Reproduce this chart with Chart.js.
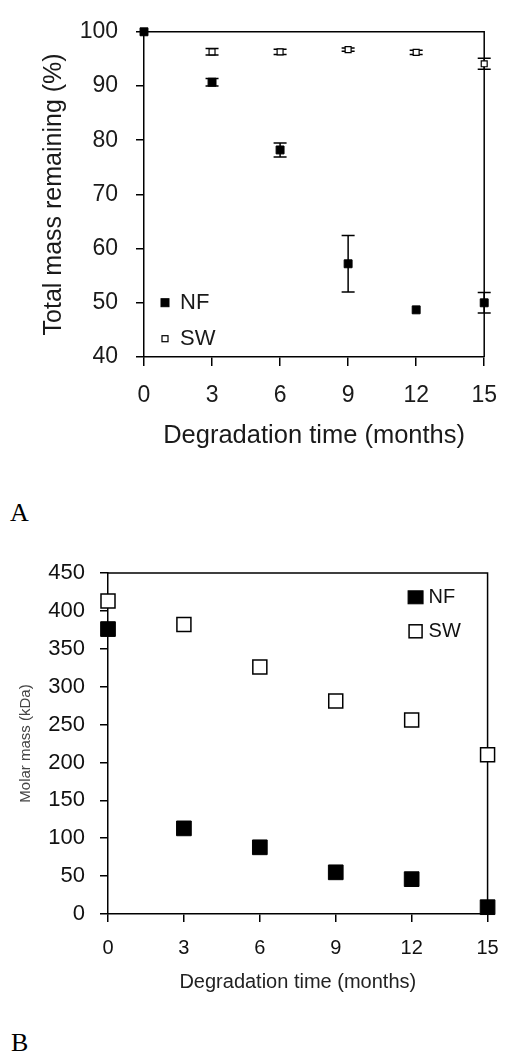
<!DOCTYPE html>
<html>
<head>
<meta charset="utf-8">
<script src="https://cdn.jsdelivr.net/npm/chart.js@4.4.1/dist/chart.umd.min.js"></script>
<style>
  html, body { margin: 0; padding: 0; background: #fff; }
  body { width: 513px; height: 1055px; position: relative; overflow: hidden; }
  canvas { position: absolute; left: 0; }
  #chartA { top: 0; }
  #chartB { top: 540px; }
  .panel { position: absolute; font-family: "Liberation Serif", "Times New Roman", serif;
           font-size: 26px; line-height: 26px; color: #000; }
  #labA { left: 10px; top: 500px; }
  #labB { left: 11px; top: 1030px; }
</style>
</head>
<body>
<canvas id="chartA" width="513" height="470"></canvas>
<canvas id="chartB" width="513" height="470"></canvas>
<div class="panel" id="labA">A</div>
<div class="panel" id="labB">B</div>

<script>
// Sampling times (months)
const months = [0, 3, 6, 9, 12, 15];
const monthTicks = [0, 3, 6, 9, 12, 15];
const seriesLabels = ['NF', 'SW'];

// Panel A: total mass remaining (%) with standard deviations
const nfMassRemaining = [100, 90.7, 78.2, 57.2, 48.7, 50.0];
const nfMassError     = [0, 0.7, 1.3, 5.2, 0, 1.9];
const swMassRemaining = [100, 96.3, 96.3, 96.7, 96.2, 94.1];
const swMassError     = [0, 0.6, 0.5, 0.3, 0.4, 1.0];
const massTicks = [40, 50, 60, 70, 80, 90, 100];

// Panel B: molar mass (kDa)
const nfMolarMass = [376, 113, 88, 55, 46, 9];
const swMolarMass = [413, 382, 326, 281, 256, 210];
const molarTicks = [0, 50, 100, 150, 200, 250, 300, 350, 400, 450];

const FONT = '"Liberation Sans", Arial, Helvetica, sans-serif';

const toPoints = (xs, ys) => xs.map((x, i) => ({ x, y: ys[i] }));
const useTicks = list => scale => { scale.ticks = list.map(v => ({ value: v })); };

// Top and right edges of the plot box
const frame = {
  id: 'frame',
  beforeDatasetsDraw(chart, args, opts) {
    const { ctx, chartArea: a } = chart;
    ctx.save();
    ctx.strokeStyle = opts.color;
    ctx.lineWidth = opts.width;
    ctx.beginPath();
    ctx.moveTo(a.left, a.top);
    ctx.lineTo(a.right, a.top);
    ctx.lineTo(a.right, a.bottom);
    ctx.stroke();
    ctx.restore();
  }
};

// Vertical error bars with caps, from each dataset's `errors` list
const errorBars = {
  id: 'errorBars',
  beforeDatasetsDraw(chart, args, opts) {
    const { ctx, scales: { x, y } } = chart;
    ctx.save();
    ctx.strokeStyle = opts.color;
    ctx.lineWidth = opts.width;
    chart.data.datasets.forEach(ds => {
      if (!ds.errors) return;
      ds.data.forEach((p, i) => {
        const e = ds.errors[i];
        if (!e) return;
        const px = x.getPixelForValue(p.x);
        const top = y.getPixelForValue(p.y + e);
        const bot = y.getPixelForValue(p.y - e);
        const h = opts.capWidth / 2;
        ctx.beginPath();
        ctx.moveTo(px, top); ctx.lineTo(px, bot);
        ctx.moveTo(px - h, top); ctx.lineTo(px + h, top);
        ctx.moveTo(px - h, bot); ctx.lineTo(px + h, bot);
        ctx.stroke();
      });
    });
    ctx.restore();
  }
};

// Legend drawn inside the plot area
const insetLegend = {
  id: 'insetLegend',
  afterDatasetsDraw(chart, args, opts) {
    const { ctx, chartArea: a } = chart;
    const baseX = opts.anchorX === 'left' ? a.left : a.right;
    const baseY = opts.anchorY === 'top' ? a.top : a.bottom;
    ctx.save();
    chart.data.datasets.forEach((ds, i) => {
      const cx = baseX + opts.markerX;
      const cy = baseY + opts.rows[i];
      const [w, h] = opts.boxes[i];
      ctx.fillStyle = ds.pointBackgroundColor;
      ctx.fillRect(cx - w / 2, cy - h / 2, w, h);
      ctx.strokeStyle = ds.pointBorderColor;
      ctx.lineWidth = ds.pointBorderWidth;
      ctx.strokeRect(cx - w / 2, cy - h / 2, w, h);
      ctx.fillStyle = opts.color;
      ctx.font = opts.font;
      ctx.textAlign = 'left';
      ctx.textBaseline = 'middle';
      ctx.fillText(ds.label, baseX + opts.textX, cy);
    });
    ctx.restore();
  }
};

function axis(o) {
  return {
    type: 'linear',
    min: o.ticks[0],
    max: o.ticks[o.ticks.length - 1],
    afterBuildTicks: useTicks(o.ticks),
    afterFit: o.fit,
    border: { display: true, color: '#000', width: 1.5 },
    grid: { display: true, drawOnChartArea: false, drawTicks: true,
            tickLength: o.tickLength, color: '#000', lineWidth: 1.5 },
    ticks: { color: o.tickColor, font: { family: FONT, size: o.tickSize },
             padding: o.tickPad, maxRotation: 0, autoSkip: false },
    title: { display: true, text: o.title, color: o.titleColor,
             font: { family: FONT, size: o.titleSize }, padding: o.titlePad }
  };
}

Chart.defaults.animation = false;

// Panel A
new Chart(document.getElementById('chartA'), {
  type: 'scatter',
  data: {
    datasets: [
      { label: seriesLabels[0], data: toPoints(months, nfMassRemaining), errors: nfMassError,
        pointStyle: 'rect', pointRadius: 5.6, pointBackgroundColor: '#000',
        pointBorderColor: '#000', pointBorderWidth: 1, clip: false },
      { label: seriesLabels[1], data: toPoints(months, swMassRemaining), errors: swMassError,
        pointStyle: 'rect', pointRadius: 4.2, pointBackgroundColor: '#fff',
        pointBorderColor: '#000', pointBorderWidth: 1.2, clip: false }
    ]
  },
  options: {
    responsive: false,
    devicePixelRatio: 1,
    layout: { padding: { top: 23, right: 17, left: 0, bottom: 0 } },
    scales: {
      x: axis({ ticks: monthTicks, fit: s => { s.height = 113; }, tickLength: 9,
                tickColor: '#1a1a1a', tickSize: 23, tickPad: 16,
                title: 'Degradation time (months)', titleColor: '#1a1a1a', titleSize: 25.5,
                titlePad: { top: 0, bottom: 19 } }),
      y: axis({ ticks: massTicks, fit: s => { s.width = 144; }, tickLength: 8,
                tickColor: '#1a1a1a', tickSize: 23, tickPad: 18,
                title: 'Total mass remaining (%)', titleColor: '#1a1a1a', titleSize: 25,
                titlePad: { top: 39, bottom: 0 } })
    },
    plugins: {
      legend: { display: false },
      tooltip: { enabled: false },
      frame: { color: '#000', width: 1.5 },
      errorBars: { color: '#000', width: 1.5, capWidth: 13 },
      insetLegend: { anchorX: 'left', anchorY: 'bottom', markerX: 21, textX: 36,
                     rows: [-54.3, -18.3], boxes: [[8, 8], [6, 6]],
                     font: '22px ' + FONT, color: '#1a1a1a' }
    }
  },
  plugins: [frame, errorBars, insetLegend]
});

// Panel B
new Chart(document.getElementById('chartB'), {
  type: 'scatter',
  data: {
    datasets: [
      { label: seriesLabels[0], data: toPoints(months, nfMolarMass),
        pointStyle: 'rect', pointRadius: 10.4, pointBackgroundColor: '#000',
        pointBorderColor: '#000', pointBorderWidth: 1, clip: false },
      { label: seriesLabels[1], data: toPoints(months, swMolarMass),
        pointStyle: 'rect', pointRadius: 9.9, pointBackgroundColor: '#fff',
        pointBorderColor: '#000', pointBorderWidth: 1.5, clip: false }
    ]
  },
  options: {
    responsive: false,
    devicePixelRatio: 1,
    layout: { padding: { top: 33, right: 24, left: 0, bottom: 0 } },
    scales: {
      x: axis({ ticks: monthTicks, fit: s => { s.height = 96; }, tickLength: 8,
                tickColor: '#111', tickSize: 20, tickPad: 14.3,
                title: 'Degradation time (months)', titleColor: '#222', titleSize: 20,
                titlePad: { top: 0, bottom: 15.3 } }),
      y: axis({ ticks: molarTicks, fit: s => { s.width = 108; }, tickLength: 8,
                tickColor: '#111', tickSize: 22, tickPad: 15,
                title: 'Molar mass (kDa)', titleColor: '#444', titleSize: 15,
                titlePad: { top: 17, bottom: 0 } })
    },
    plugins: {
      legend: { display: false },
      tooltip: { enabled: false },
      frame: { color: '#000', width: 1.5 },
      insetLegend: { anchorX: 'right', anchorY: 'top', markerX: -72, textX: -59,
                     rows: [24.3, 58.3], boxes: [[15, 13], [13, 13]],
                     font: '20px ' + FONT, color: '#111' }
    }
  },
  plugins: [frame, insetLegend]
});
</script>
</body>
</html>
